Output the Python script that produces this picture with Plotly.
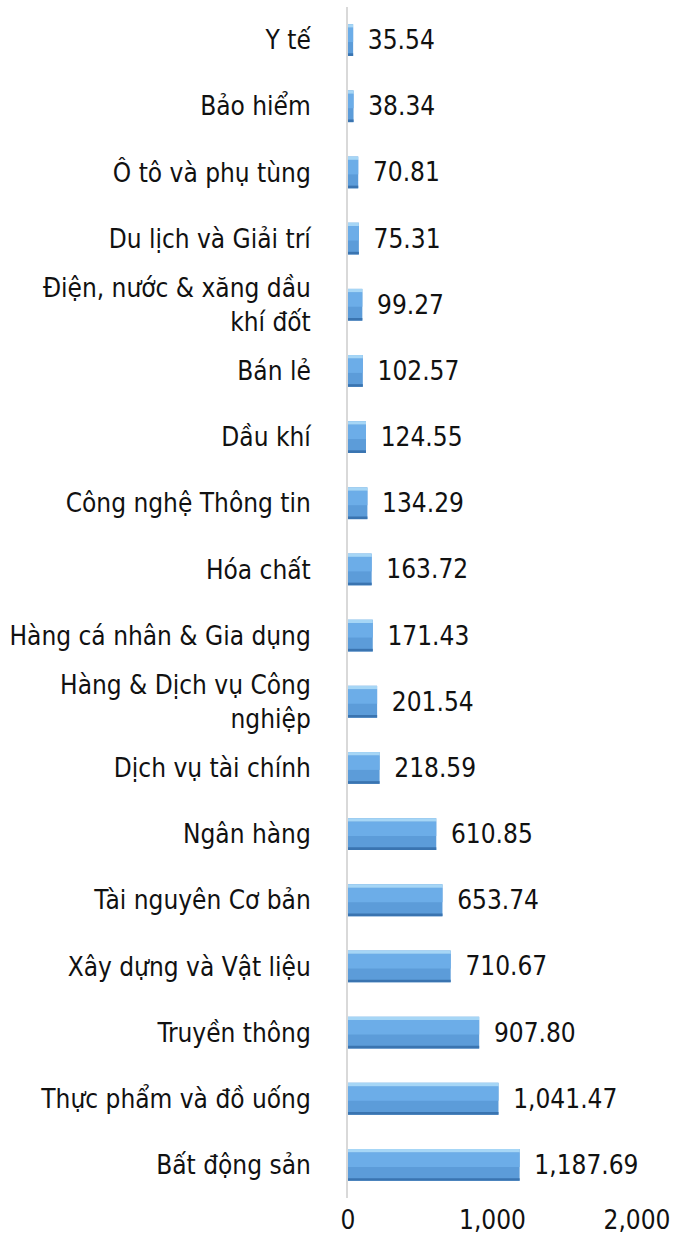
import plotly.graph_objects as go

categories = [
    "Y tế", "Bảo hiểm", "Ô tô và phụ tùng", "Du lịch và Giải trí",
    "Điện, nước & xăng dầu<br>khí đốt", "Bán lẻ", "Dầu khí", "Công nghệ Thông tin",
    "Hóa chất", "Hàng cá nhân & Gia dụng", "Hàng & Dịch vụ Công<br>nghiệp",
    "Dịch vụ tài chính", "Ngân hàng", "Tài nguyên Cơ bản", "Xây dựng và Vật liệu",
    "Truyền thông", "Thực phẩm và đồ uống", "Bất động sản",
]
values = [35.54, 38.34, 70.81, 75.31, 99.27, 102.57, 124.55, 134.29, 163.72,
          171.43, 201.54, 218.59, 610.85, 653.74, 710.67, 907.80, 1041.47, 1187.69]
x_ticks = [0, 1000, 2000]

labels = ["\u2002" + f"{v:,.2f}" for v in values]
FONT = "DejaVu Sans Condensed, DejaVu Sans"
TXT = "#111111"

fig = go.Figure()
# main body
fig.add_trace(go.Bar(
    x=values, y=categories, orientation="h", width=0.48, offset=-0.24,
    marker=dict(color="#5c9cd9", line=dict(width=0)),
    text=labels, textposition="outside", cliponaxis=False,
    textfont=dict(family=FONT, size=26, color=TXT), hoverinfo="skip",
))
# upper lighter part (gradient feel)
fig.add_trace(go.Bar(
    x=values, y=categories, orientation="h", width=0.22, offset=-0.19,
    marker=dict(color="#6cade8", line=dict(width=0)), hoverinfo="skip",
))
# top highlight bevel
fig.add_trace(go.Bar(
    x=values, y=categories, orientation="h", width=0.05, offset=-0.24,
    marker=dict(color="#a6d6f6", line=dict(width=0)), hoverinfo="skip",
))
# bottom dark bevel
fig.add_trace(go.Bar(
    x=values, y=categories, orientation="h", width=0.04, offset=0.20,
    marker=dict(color="#3a74b0", line=dict(width=0)), hoverinfo="skip",
))

fig.update_layout(
    width=673, height=1243,
    margin=dict(l=348, r=36, t=7, b=45),
    barmode="overlay",
    paper_bgcolor="white", plot_bgcolor="white",
    font=dict(family=FONT, size=26, color=TXT),
    showlegend=False,
    xaxis=dict(range=[0, 2000], tickvals=x_ticks, tickformat=",d",
               showgrid=False, zeroline=False, showline=False, automargin=False,
               ticks="", ticklabelstandoff=4, ticklabeloverflow="allow",
               tickfont=dict(size=26)),
    yaxis=dict(autorange="reversed", showgrid=False, zeroline=False, automargin=False,
               showline=True, linecolor="#d9d9d9", linewidth=2,
               ticks="", ticklabelstandoff=30, tickfont=dict(size=26)),
)
fig.write_html(
    "out.html",
    config={"displayModeBar": False},
    post_script="document.body.style.margin='0';document.body.style.overflow='hidden';",
)
